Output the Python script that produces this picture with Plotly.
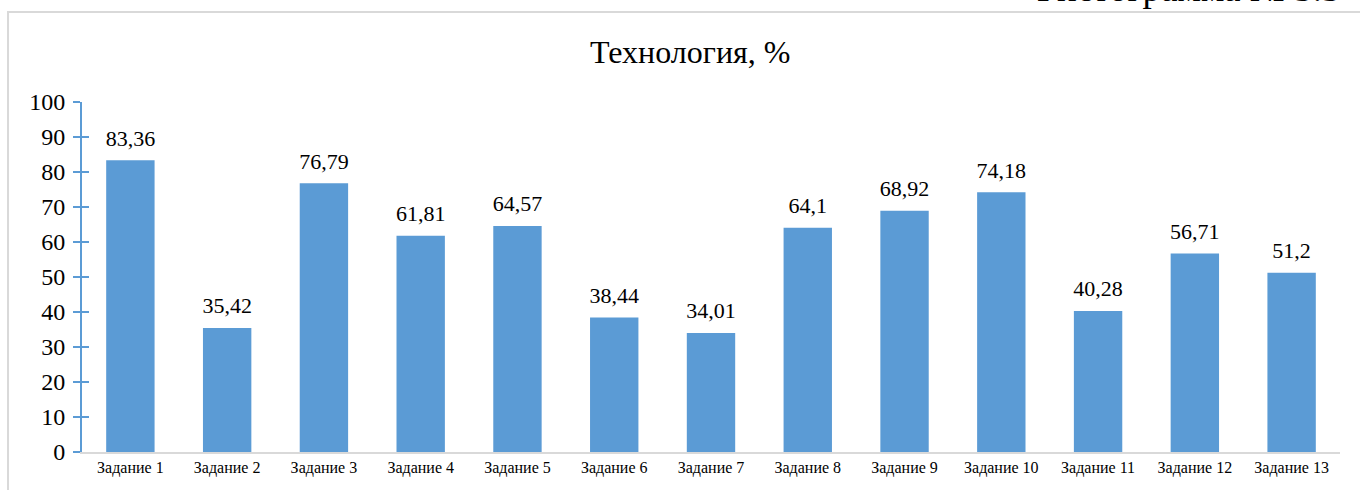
import plotly.graph_objects as go

categories = ["Задание 1", "Задание 2", "Задание 3", "Задание 4", "Задание 5", "Задание 6",
              "Задание 7", "Задание 8", "Задание 9", "Задание 10", "Задание 11", "Задание 12", "Задание 13"]
values = [83.36, 35.42, 76.79, 61.81, 64.57, 38.44, 34.01, 64.1, 68.92, 74.18, 40.28, 56.71, 51.2]
labels = [str(v).replace(".", ",") for v in values]
y_ticks = list(range(0, 101, 10))

SERIF = "Liberation Serif, Times New Roman, serif"
BLUE = "#5b9bd5"

fig = go.Figure()
fig.add_trace(go.Bar(
    x=categories, y=values,
    marker=dict(color=BLUE, line=dict(width=0)),
    hoverinfo="skip",
))
# value labels, lifted above the bar tops by an invisible marker
fig.add_trace(go.Scatter(
    x=categories, y=values, text=labels, mode="markers+text", textposition="top center",
    textfont=dict(family=SERIF, size=22, color="#000000"),
    marker=dict(size=13, opacity=0), cliponaxis=False, hoverinfo="skip",
))
# invisible trace on the overlay axis to render inward tick marks
fig.add_trace(go.Scatter(x=[categories[0]], y=[0], yaxis="y2", mode="markers",
                         marker=dict(opacity=0, size=1), showlegend=False, hoverinfo="skip"))

fig.update_layout(
    width=1360, height=490,
    margin=dict(l=82, r=20, t=102, b=38, autoexpand=False),
    paper_bgcolor="white", plot_bgcolor="white",
    showlegend=False, bargap=0.5,
    font=dict(family=SERIF, color="#000000"),
    xaxis=dict(
        range=[-0.5, len(categories) - 0.5], autorange=False,
        showgrid=False, zeroline=False, showline=True, linecolor="#d9d9d9", linewidth=2,
        ticks="", tickfont=dict(family=SERIF, size=16, color="#000000"), automargin=False,
    ),
    yaxis=dict(
        range=[0, 100], tickvals=y_ticks, showgrid=False, zeroline=False,
        showline=True, linecolor=BLUE, linewidth=2,
        ticks="outside", ticklen=7, tickwidth=2, tickcolor=BLUE,
        tickfont=dict(family=SERIF, size=24, color="#000000"), ticklabelstandoff=3,
        automargin=False,
    ),
    yaxis2=dict(
        range=[0, 100], tickvals=y_ticks, overlaying="y", side="left",
        showgrid=False, zeroline=False, showline=False,
        ticks="inside", ticklen=7, tickwidth=2, tickcolor=BLUE, showticklabels=False,
        automargin=False,
    ),
    shapes=[dict(type="rect", xref="paper", yref="paper",
                 x0=-0.0588, x1=1.06, y0=-0.2, y1=1.2571,
                 line=dict(color="#d9d9d9", width=2), fillcolor="rgba(0,0,0,0)", layer="below")],
    annotations=[
        dict(text="Технология, %", x=0.483, y=1.143, xref="paper", yref="paper",
             xanchor="center", yanchor="middle", showarrow=False,
             font=dict(family=SERIF, size=32, color="#000000")),
        dict(text="Гистограмма № 5.5", x=1.0024, y=1.26, xref="paper", yref="paper",
             xanchor="right", yanchor="bottom", showarrow=False,
             font=dict(family=SERIF, size=37, color="#000000")),
    ],
)

fig.write_html("out.html", config={"displayModeBar": False},
               post_script="document.body.style.margin='0';")
